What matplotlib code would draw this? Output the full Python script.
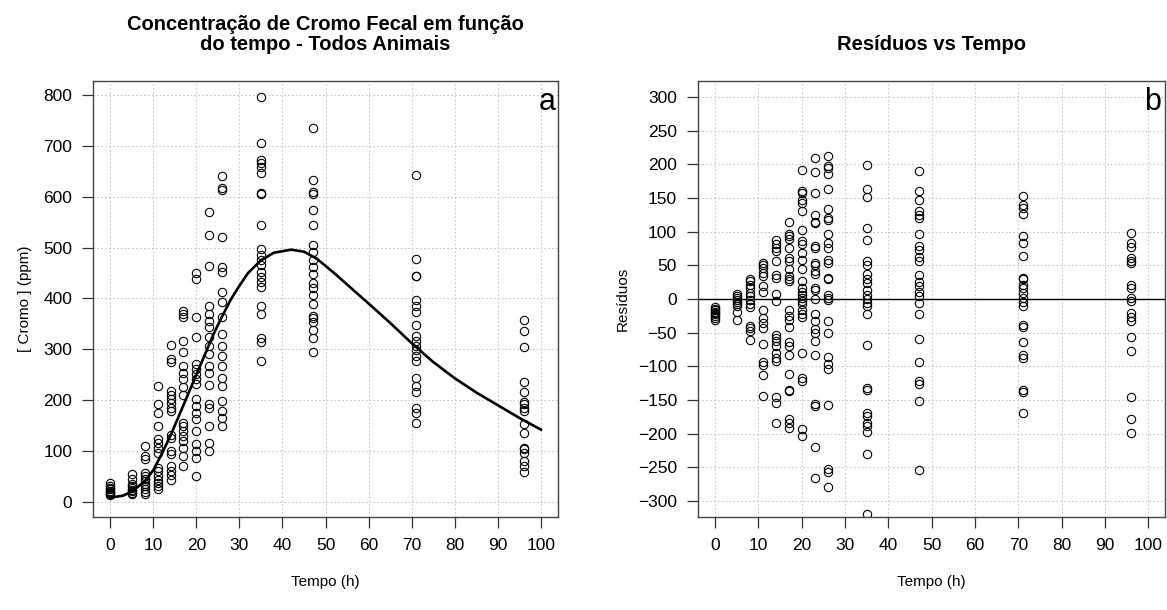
import matplotlib.pyplot as plt
from matplotlib.ticker import MultipleLocator

plt.rcParams["font.family"] = ["Liberation Sans", "DejaVu Sans"]

# ---- tempos de coleta (h) ----
tempos = [0, 5, 8, 11, 14, 17, 20, 23, 26, 35, 47, 71, 96]

# ---- concentracao de cromo fecal (ppm) por tempo ----
cromo_00 = [37, 30, 27, 25, 22, 20, 18, 16, 14]
cromo_05 = [55, 45, 35, 30, 27, 24, 21, 18, 15]
cromo_08 = [109, 90, 85, 57, 50, 45, 40, 35, 30, 25, 20, 15]
cromo_11 = [227, 192, 175, 149, 124, 116, 106, 96, 67, 60, 50, 43, 37, 30, 25]
cromo_14 = [309, 281, 275, 218, 211, 202, 195, 185, 179, 132, 126, 99, 93, 70, 60, 53, 43]
cromo_17 = [376, 370, 364, 317, 295, 267, 254, 241, 225, 211, 155, 149, 139, 129, 119, 106, 90, 70]
cromo_20 = [450, 439, 364, 325, 271, 261, 251, 241, 231, 202, 188, 175, 162, 139, 113, 99, 86, 51]
cromo_23 = [571, 524, 463, 386, 370, 356, 343, 325, 307, 290, 267, 254, 229, 192, 185, 149, 116, 99]
cromo_26 = [640, 618, 614, 520, 462, 453, 412, 394, 363, 330, 307, 287, 267, 244, 228, 198, 179, 165, 150]
cromo_35 = [796, 706, 672, 666, 659, 646, 607, 605, 544, 498, 485, 475, 465, 452, 442, 432, 422,
            386, 370, 323, 314, 277]
cromo_47 = [735, 633, 610, 605, 575, 544, 505, 491, 475, 462, 448, 431, 421, 406, 389, 366, 361,
            354, 337, 323, 294]
cromo_71 = [643, 478, 445, 444, 396, 386, 374, 347, 327, 317, 307, 299, 287, 277, 244, 228, 216,
            185, 175, 155]
cromo_96 = [358, 335, 305, 236, 215, 196, 192, 185, 179, 153, 136, 106, 103, 96, 80, 70, 58]

# ---- curva ajustada ----
curva_t = [0, 3, 5, 8, 10, 12, 14, 16, 18, 20, 22, 24, 26, 28, 30, 32, 35, 38, 42, 45, 48,
           52, 56, 60, 65, 70, 75, 80, 85, 90, 95, 100]
curva_ppm = [8, 12, 20, 40, 62, 95, 130, 170, 210, 250, 290, 330, 365, 398, 425, 450, 475, 490,
             496, 492, 478, 450, 420, 390, 352, 312, 275, 243, 215, 190, 165, 142]

# ---- residuos por tempo ----
res_00 = [-12, -15, -17, -19, -21, -23, -25, -28, -32]
res_05 = [7, 4, 1, -2, -5, -8, -10, -19, -32]
res_08 = [30, 26, 21, 16, 9, 4, -1, -7, -12, -40, -43, -48, -61]
res_11 = [54, 51, 46, 39, 34, 19, 11, -16, -28, -36, -43, -67, -94, -98, -113, -144]
res_14 = [87, 81, 76, 72, 57, 36, 31, 7, -3, -54, -58, -63, -70, -80, -88, -92, -146, -154, -184]
res_17 = [114, 97, 93, 89, 76, 61, 56, 44, 34, 29, 26, -17, -26, -31, -41, -64, -70, -83, -112,
          -135, -137, -179, -184, -192]
res_20 = [192, 161, 157, 147, 143, 130, 103, 86, 81, 68, 58, 44, 26, 16, 11, 6, 1, -3, -8, -16,
          -23, -27, -80, -117, -122, -193, -204]
res_23 = [209, 188, 157, 125, 115, 113, 78, 76, 54, 51, 41, 37, 16, 14, 0, -22, -33, -45, -50,
          -62, -83, -156, -159, -220, -266]
res_26 = [212, 198, 194, 185, 164, 134, 120, 117, 96, 83, 76, 58, 54, 31, 30, 6, 1, -1, -33, -50,
          -86, -97, -104, -158, -252, -257, -279]
res_35 = [199, 163, 151, 105, 88, 56, 51, 37, 29, 24, 14, 6, 0, -6, -11, -22, -69, -132, -135,
          -169, -174, -184, -189, -197, -231, -320]
res_47 = [190, 160, 147, 130, 125, 120, 96, 78, 73, 63, 56, 36, 25, 19, 11, 4, -6, -22, -60, -93,
          -122, -126, -151, -254]
res_71 = [153, 140, 135, 126, 94, 83, 64, 31, 29, 21, 16, 9, 1, -5, -11, -38, -41, -64, -83, -88,
          -136, -139, -169]
res_96 = [98, 83, 77, 61, 56, 53, 21, 16, 1, -3, -21, -27, -33, -56, -78, -146, -178, -199]

cromo = [cromo_00, cromo_05, cromo_08, cromo_11, cromo_14, cromo_17, cromo_20,
         cromo_23, cromo_26, cromo_35, cromo_47, cromo_71, cromo_96]
residuos = [res_00, res_05, res_08, res_11, res_14, res_17, res_20,
            res_23, res_26, res_35, res_47, res_71, res_96]

x_cromo = [t for t, vals in zip(tempos, cromo) for _ in vals]
y_cromo = [v for vals in cromo for v in vals]
x_res = [t for t, vals in zip(tempos, residuos) for _ in vals]
y_res = [v for vals in residuos for v in vals]

fig = plt.figure(figsize=(11.67, 6.10), dpi=100)
ax1 = fig.add_axes([0.0797, 0.1525, 0.3985, 0.7148])
ax2 = fig.add_axes([0.598, 0.1525, 0.4007, 0.7148])


def estilo(ax):
    ax.grid(True, color="#c8c8c8", linestyle=(0, (1.5, 2)), linewidth=0.8)
    ax.set_axisbelow(True)
    for s in ax.spines.values():
        s.set_color("#444444")
        s.set_linewidth(1.0)
    ax.tick_params(direction="out", length=8, width=0.9, color="#333333",
                   labelsize=12.5, pad=7)
    ax.xaxis.set_major_locator(MultipleLocator(10))
    ax.set_xlim(-4, 104)
    ax.set_xlabel("Tempo (h)", fontsize=11, labelpad=16)


# ---- painel a ----
ax1.plot(x_cromo, y_cromo, ls="", marker="o", ms=6, mfc="none", mec="black", mew=0.8)
ax1.plot(curva_t, curva_ppm, color="black", lw=1.9)
ax1.set_ylim(-30, 828)
ax1.yaxis.set_major_locator(MultipleLocator(100))
estilo(ax1)
ax1.set_ylabel("[ Cromo ] (ppm)", fontsize=11, labelpad=8)
ax1.set_title("Concentração de Cromo Fecal em função\ndo tempo - Todos Animais",
              fontsize=14.5, fontweight="bold", pad=22, linespacing=1.1)
ax1.text(0.995, 0.985, "a", transform=ax1.transAxes, ha="right", va="top", fontsize=22)

# ---- painel b ----
ax2.plot(x_res, y_res, ls="", marker="o", ms=6, mfc="none", mec="black", mew=0.8)
ax2.axhline(0, color="black", lw=1.0)
ax2.set_ylim(-324, 324)
ax2.yaxis.set_major_locator(MultipleLocator(50))
estilo(ax2)
ax2.set_ylabel("Resíduos", fontsize=11, labelpad=6)
ax2.set_title("Resíduos vs Tempo", fontsize=14.5, fontweight="bold", pad=22)
ax2.text(0.99, 0.985, "b", transform=ax2.transAxes, ha="right", va="top", fontsize=22)

fig.savefig("out.png", dpi=100)
